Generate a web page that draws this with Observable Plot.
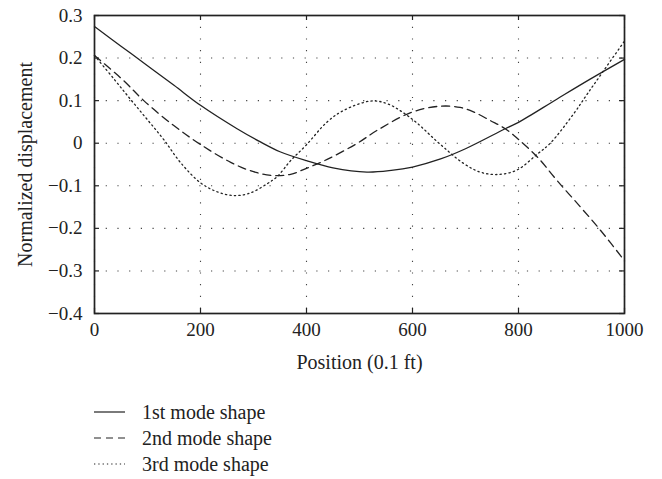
<!DOCTYPE html>
<html>
<head>
<meta charset="utf-8">
<script src="https://cdn.jsdelivr.net/npm/d3@7"></script>
<script src="https://cdn.jsdelivr.net/npm/@observablehq/plot@0.6"></script>
<style>
  html, body { margin: 0; padding: 0; background: #fff; }
  body { width: 662px; font-family: "Liberation Serif", "DejaVu Serif", serif; color: #222; }
  #legend { margin-top: 24px; margin-left: 94px; font-size: 20px; }
  .row { display: flex; align-items: center; height: 26px; }
  .row svg { margin-right: 17px; }
</style>
</head>
<body>
<div id="chart"></div>
<div id="legend"></div>
<script>
// ---- data ----
const mode1X = [0, 50, 100, 150, 200, 269, 313, 350, 400, 450, 514, 560, 600, 653, 700, 775, 800, 873, 936, 1000];
const mode1Y = [0.274, 0.228, 0.182, 0.136, 0.089, 0.034, 0.003, -0.02, -0.041, -0.058, -0.068, -0.064, -0.056, -0.037, -0.013, 0.034, 0.049, 0.104, 0.151, 0.197];

const mode2X = [0, 55, 93, 149, 200, 257, 300, 338, 370, 400, 439, 496, 533, 599, 653, 690, 716, 747, 775, 799, 836, 873, 917, 955, 1000];
const mode2Y = [0.206, 0.147, 0.1, 0.042, -0.003, -0.045, -0.067, -0.076, -0.073, -0.059, -0.038, 0.0, 0.03, 0.073, 0.087, 0.084, 0.073, 0.053, 0.034, 0.01, -0.033, -0.088, -0.15, -0.205, -0.276];

const mode3X = [0, 36, 68, 100, 131, 162, 200, 231, 263, 294, 326, 345, 370, 399, 439, 470, 521, 552, 599, 650, 697, 728, 760, 797, 836, 860, 904, 930, 961, 1000];
const mode3Y = [0.206, 0.152, 0.103, 0.055, 0.008, -0.045, -0.093, -0.114, -0.123, -0.117, -0.095, -0.078, -0.041, -0.005, 0.05, 0.077, 0.099, 0.093, 0.057, 0.0, -0.048, -0.068, -0.0735, -0.063, -0.025, 0.0, 0.069, 0.116, 0.171, 0.24];

const seriesNames = ["1st mode shape", "2nd mode shape", "3rd mode shape"];
const xTicks = [0, 200, 400, 600, 800, 1000];
const xTickLabels = ["0", "200", "400", "600", "800", "1000"];
const yTicks = [-0.4, -0.3, -0.2, -0.1, 0, 0.1, 0.2, 0.3];
const yTickLabels = ["\u22120.4", "\u22120.3", "\u22120.2", "\u22120.1", "0", "0.1", "0.2", "0.3"];
const xLabel = "Position (0.1 ft)";
const yLabel = "Normalized displacement";

// ---- build tables ----
const toRows = (xs, ys, name) => xs.map((x, i) => ({x, y: ys[i], series: name}));
const m1 = toRows(mode1X, mode1Y, seriesNames[0]);
const m2 = toRows(mode2X, mode2Y, seriesNames[1]);
const m3 = toRows(mode3X, mode3Y, seriesNames[2]);

const ink = "#222";
const gridStyle = {stroke: "#444", strokeOpacity: 1, strokeWidth: 1.1, strokeDasharray: "1.2,10.5"};
const dashes = [null, "8,5", "1.3,3.2"];
const legendDashes = [null, "7,5", "1.3,3"];

const W = 662, H = 375;
const mL = 94, mR = 38, mT = 15, mB = 62;
const innerW = W - mL - mR, innerH = H - mT - mB;
const tickLen = 5;

const chart = Plot.plot({
  width: W,
  height: H,
  marginLeft: mL,
  marginRight: mR,
  marginTop: mT,
  marginBottom: mB,
  style: {fontFamily: "'Liberation Serif', 'DejaVu Serif', serif", fontSize: "19px", color: ink, background: "#fff"},
  x: {domain: [0, 1000]},
  y: {domain: [-0.4, 0.3]},
  marks: [
    Plot.gridX(xTicks, {...gridStyle}),
    Plot.gridY(yTicks, {...gridStyle}),
    // inward ticks
    Plot.tickX(xTicks, {x: d => d, insetTop: innerH - tickLen, stroke: ink, strokeWidth: 1.2}),
    Plot.tickX(xTicks, {x: d => d, insetBottom: innerH - tickLen, stroke: ink, strokeWidth: 1.2}),
    Plot.tickY(yTicks, {y: d => d, insetRight: innerW - tickLen, stroke: ink, strokeWidth: 1.2}),
    Plot.tickY(yTicks, {y: d => d, insetLeft: innerW - tickLen, stroke: ink, strokeWidth: 1.2}),
    Plot.line(m1, {x: "x", y: "y", curve: "catmull-rom", stroke: ink, strokeWidth: 1.3}),
    Plot.line(m2, {x: "x", y: "y", curve: "catmull-rom", stroke: ink, strokeWidth: 1.3, strokeDasharray: dashes[1]}),
    Plot.line(m3, {x: "x", y: "y", curve: "catmull-rom", stroke: ink, strokeWidth: 1.3, strokeDasharray: dashes[2]}),
    Plot.axisX({
      ticks: xTicks,
      tickSize: 0,
      tickPadding: 9,
      tickFormat: d => xTickLabels[xTicks.indexOf(d)],
      label: null,
      fill: ink
    }),
    Plot.axisY({
      ticks: yTicks,
      tickSize: 0,
      tickPadding: 12,
      tickFormat: d => yTickLabels[yTicks.findIndex(t => Math.abs(t - d) < 1e-9)],
      label: null,
      fill: ink
    }),
    Plot.text([xLabel], {frameAnchor: "bottom", dy: 55, fontSize: 20, fill: ink, textAnchor: "middle"}),
    Plot.text([yLabel], {frameAnchor: "left", dx: -69, rotate: -90, fontSize: 20, fill: ink, textAnchor: "middle", lineAnchor: "middle"}),
    Plot.frame({stroke: ink, strokeWidth: 1.7})
  ]
});
document.getElementById("chart").appendChild(chart);

// ---- legend ----
const legend = d3.select("#legend");
seriesNames.forEach((name, i) => {
  const row = legend.append("div").attr("class", "row");
  const svg = row.append("svg").attr("width", 31).attr("height", 14);
  svg.append("line")
    .attr("x1", 0).attr("x2", 31).attr("y1", 7).attr("y2", 7)
    .attr("stroke", ink).attr("stroke-width", 1.2)
    .attr("stroke-dasharray", legendDashes[i]);
  row.append("span").text(name);
});
</script>
</body>
</html>
